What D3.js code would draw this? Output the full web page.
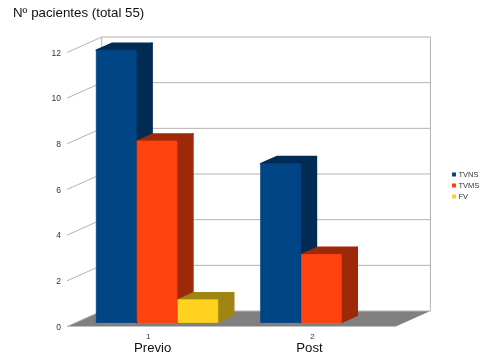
<!DOCTYPE html>
<html>
<head>
<meta charset="utf-8">
<script src="https://cdn.jsdelivr.net/npm/d3@7"></script>
<style>
	html, body { margin: 0; padding: 0; background: #fff; }
	svg { display: block; filter: blur(0.3px); }
	text { font-family: "Liberation Sans", Arial, sans-serif; }
</style>
</head>
<body>
<div id="chart"></div>
<script>
// Chart values
const categories = ['1', '2'];
const categoryNames = ['Previo', 'Post'];
const seriesNames = ['TVNS', 'TVMS', 'FV'];
const tvns = [12, 7];
const tvms = [8, 3];
const fv = [1, 0];
const yTicks = [0, 2, 4, 6, 8, 10, 12];
const titleText = 'Nº pacientes (total 55)';

const frontColors = ['#004586', '#ff420e', '#ffd320'];
const topColors = ['#002b54', '#9e2909', '#a08414'];

const width = 486;
const height = 359;

const svg = d3.select('#chart')
	.append('svg')
	.attr('width', width)
	.attr('height', height);

// Front plane of the box, depth is added on top of it
const y = d3.scaleLinear().domain([0, 12]).range([326.5, 52.5]);
const x0 = d3.scaleBand().domain(categories).range([67, 395.7]);
const x1 = d3.scaleBand().domain(seriesNames).range([29, 151.5]);
const depthX = d3.scaleLinear().domain([0, 1]).range([0, 34.7]);
const depthY = d3.scaleLinear().domain([0, 1]).range([0, -15.5]);

// Bars sit a little further back, this is their front face
const barY = d3.scaleLinear().domain([0, 12]).range([322.5, 50.3]);
const barDepth = 0.46;
const barFrontX = 8.3;

const line = d3.line();

// value v at horizontal position px and depth d
function project(px, v, d) {
	return [px + depthX(d), y(v) + depthY(d)];
}

// same thing for bars, d counted from the bar's front face
function projectBar(px, v, d) {
	return [px + barFrontX + depthX(d), barY(v) + depthY(d)];
}

// Floor
const xMin = x0.range()[0];
const xMax = x0.range()[1];
svg.append('path')
	.attr('d', line([project(xMin, 0, 0), project(xMin, 0, 1), project(xMax, 0, 1), project(xMax, 0, 0)]) + 'Z')
	.attr('fill', '#808080');

// Walls and grid
const grid = svg.append('g')
	.attr('fill', 'none')
	.attr('stroke', '#b3b3b3')
	.attr('stroke-width', 1);

grid.selectAll('path.grid')
	.data(yTicks)
	.enter().append('path')
	.attr('class', 'grid')
	.attr('d', function(d) {
		return line([project(xMin, d, 0), project(xMin, d, 1), project(xMax, d, 1)]);
	});

grid.append('path')
	.attr('d', line([project(xMin, 0, 1), project(xMin, 12, 1)]));
grid.append('path')
	.attr('d', line([project(xMax, 0, 1), project(xMax, 12, 1)]));

// Bars, drawn left to right per group
const rows = [];
categories.forEach(function(c, i) {
	[tvns, tvms, fv].forEach(function(values, s) {
		if (values[i] > 0) {
			rows.push({ category: c, series: s, value: values[i] });
		}
	});
});

const bar = svg.append('g')
	.selectAll('g')
	.data(rows)
	.enter().append('g')
	.attr('stroke-linejoin', 'round')
	.attr('stroke-width', 1.5);

function barX(d) {
	return x0(d.category) + x1(seriesNames[d.series]) - x1.range()[0] + 21;
}

// right side
bar.append('path')
	.attr('d', function(d) {
		const r = barX(d) + x1.bandwidth() - 1;
		return line([projectBar(r, 0, 0), projectBar(r, d.value, 0), projectBar(r, d.value, barDepth), projectBar(r, 0, barDepth)]) + 'Z';
	})
	.attr('fill', function(d) { return topColors[d.series]; })
	.attr('stroke', function(d) { return topColors[d.series]; });

// top
bar.append('path')
	.attr('d', function(d) {
		const l = barX(d);
		const r = l + x1.bandwidth() - 1;
		return line([projectBar(l, d.value, 0), projectBar(l, d.value, barDepth), projectBar(r, d.value, barDepth), projectBar(r, d.value, 0)]) + 'Z';
	})
	.attr('fill', function(d) { return topColors[d.series]; })
	.attr('stroke', function(d) { return topColors[d.series]; });

// front
bar.append('path')
	.attr('d', function(d) {
		const l = barX(d);
		const r = l + x1.bandwidth() - 1;
		return line([projectBar(l, 0, 0), projectBar(l, d.value, 0), projectBar(r, d.value, 0), projectBar(r, 0, 0)]) + 'Z';
	})
	.attr('fill', function(d) { return frontColors[d.series]; })
	.attr('stroke', function(d) { return frontColors[d.series]; })
	.attr('stroke-width', 0.8);

// Y axis labels
const yAxis = svg.append('g')
	.attr('transform', 'translate(67,0)')
	.call(d3.axisLeft(y).tickValues(yTicks).tickSize(0).tickPadding(6));
yAxis.select('.domain').remove();
yAxis.selectAll('text')
	.attr('font-size', 8.5)
	.attr('fill', '#333')
	.style('font-family', '"Liberation Sans", Arial, sans-serif');

// X axis labels
const xAxis = svg.append('g')
	.attr('transform', 'translate(0,326.5)')
	.call(d3.axisBottom(x0).tickSize(0).tickPadding(7));
xAxis.select('.domain').remove();
xAxis.selectAll('text')
	.attr('font-size', 8)
	.attr('fill', '#333')
	.attr('dx', -1)
	.style('font-family', '"Liberation Sans", Arial, sans-serif');

// Hand written group names under the axis
svg.selectAll('text.group')
	.data(categoryNames)
	.enter().append('text')
	.attr('class', 'group')
	.attr('x', function(d, i) { return x0(categories[i]) + x0.bandwidth() / 2 + (i === 0 ? 3.5 : -4); })
	.attr('y', 351.7)
	.attr('text-anchor', 'middle')
	.attr('font-size', 13.2)
	.attr('fill', '#111')
	.text(function(d) { return d; });

// Title
svg.append('text')
	.attr('x', 13)
	.attr('y', 17.3)
	.attr('font-size', 13.3)
	.attr('fill', '#111')
	.text(titleText);

// Legend
const legendY = d3.scalePoint().domain(seriesNames).range([174.5, 196.5]);
const legend = svg.append('g')
	.selectAll('g')
	.data(seriesNames)
	.enter().append('g')
	.attr('transform', function(d) { return 'translate(452,' + legendY(d) + ')'; });

legend.append('rect')
	.attr('x', 0)
	.attr('y', -2)
	.attr('width', 4)
	.attr('height', 4)
	.attr('fill', function(d, i) { return frontColors[i]; });

legend.append('text')
	.attr('x', 6.5)
	.attr('y', 2.7)
	.attr('font-size', 7.5)
	.attr('fill', '#333')
	.text(function(d) { return d; });
</script>
</body>
</html>
